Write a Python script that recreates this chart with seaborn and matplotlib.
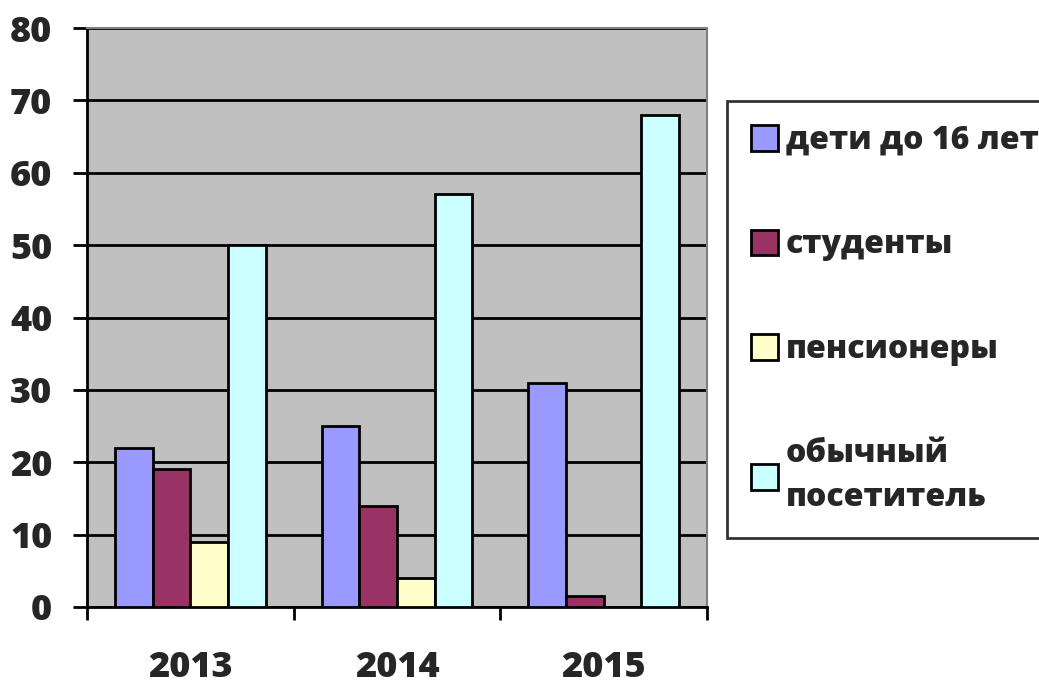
import matplotlib as mpl
import matplotlib.pyplot as plt
import pandas as pd
import seaborn as sns
from matplotlib.ticker import FixedLocator

years = ["2013", "2014", "2015"]
groups = ["дети до 16 лет", "студенты", "пенсионеры", "обычный\nпосетитель"]
kids = [22, 25, 31]
students = [19, 14, 1.5]
pensioners = [9, 4, 0]
regular = [50, 57, 68]
colors = ["#9999FF", "#993366", "#FFFFCC", "#CCFFFF"]


def main():
    sns.set_style("white")
    plt.rcParams["font.family"] = ["Open Sans", "DejaVu Sans"]
    plt.rcParams["font.weight"] = "heavy"

    rows = []
    for name, values in zip(groups, [kids, students, pensioners, regular]):
        for year, v in zip(years, values):
            rows.append({"year": year, "group": name, "value": v})
    df = pd.DataFrame(rows)

    fig = plt.figure(figsize=(10.39, 6.86), dpi=100)
    ax = fig.add_axes([87 / 1039, 1 - 607 / 686, 620 / 1039, 579 / 686])
    ax.set_facecolor("#C0C0C0")

    sns.barplot(data=df, x="year", y="value", hue="group", hue_order=groups,
                palette=colors, saturation=1, edgecolor="black", linewidth=2,
                width=0.73, gap=0, ax=ax, zorder=3)

    ax.set_ylim(0, 80)
    ax.set_xlim(-0.5, 2.5)
    ax.set_yticks(range(0, 81, 10))
    ax.grid(axis="y", color="black", linewidth=2, zorder=0)
    ax.set_axisbelow(True)
    ax.set_xlabel("")
    ax.set_ylabel("")

    # group separators as minor ticks on x, no marks at labels
    ax.xaxis.set_minor_locator(FixedLocator([-0.5, 0.5, 1.5, 2.5]))
    ax.tick_params(axis="x", which="major", length=0, pad=31, labelsize=26)
    ax.tick_params(axis="x", which="minor", length=9, width=2, color="black", bottom=True)
    ax.tick_params(axis="y", length=10, width=2, color="black", pad=15, labelsize=26, left=True)
    for lbl in ax.get_xticklabels() + ax.get_yticklabels():
        lbl.set_fontweight("heavy")

    ax.spines["left"].set_color("black")
    ax.spines["left"].set_linewidth(2)
    ax.spines["bottom"].set_color("black")
    ax.spines["bottom"].set_linewidth(2)
    ax.spines["top"].set_color("#808080")
    ax.spines["right"].set_color("#808080")
    ax.spines["top"].set_linewidth(1.5)
    ax.spines["right"].set_linewidth(1.5)

    handles, labels = ax.get_legend_handles_labels()
    ax.legend_.remove()
    leg = fig.legend(handles, labels, loc="upper left",
                     bbox_to_anchor=(727 / 1039, 1 - 101 / 686),
                     frameon=True, fancybox=False, edgecolor="black",
                     prop={"size": 23, "weight": "heavy"},
                     labelspacing=2.27, handlelength=0.85, handleheight=0.85,
                     handletextpad=0.25, borderpad=0.75, borderaxespad=0)
    leg.get_frame().set_linewidth(2)
    for t in leg.get_texts():
        t.set_linespacing(1.48)

    fig.savefig("out.png", dpi=100)


if __name__ == "__main__":
    main()
